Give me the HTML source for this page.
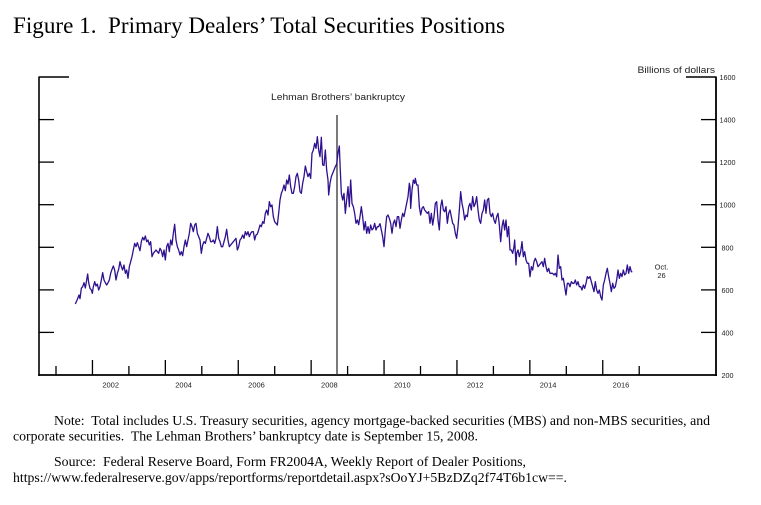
<!DOCTYPE html>
<html><head><meta charset="utf-8"><style>
html,body{margin:0;padding:0;background:#fff;}
svg{display:block;}
text{white-space:pre;}
.s{font-family:"Liberation Sans",Arial,sans-serif;fill:#222;}
.t{font-family:"Liberation Serif","Times New Roman",serif;fill:#000;}
</style></head><body>
<svg width="761" height="505" viewBox="0 0 761 505" xmlns="http://www.w3.org/2000/svg" xml:space="preserve">
<rect width="761" height="505" fill="#fff"/>
<text class="t" x="13" y="33" font-size="23" textLength="492" lengthAdjust="spacingAndGlyphs">Figure 1.  Primary Dealers’ Total Securities Positions</text>

<!-- axes -->
<g stroke="#000" fill="none">
<line x1="39" y1="76.5" x2="39" y2="376" stroke-width="1.6"/>
<line x1="716" y1="76.5" x2="716" y2="376" stroke-width="1.8"/>
<line x1="38.2" y1="375" x2="716.9" y2="375" stroke-width="1.8"/>
<line x1="39" y1="77" x2="69" y2="77" stroke-width="1.5"/>
<line x1="686" y1="77" x2="716" y2="77" stroke-width="1.5"/>
<g stroke-width="1.3">
<line x1="39" y1="119.6" x2="54" y2="119.6"/><line x1="39" y1="162.1" x2="54" y2="162.1"/>
<line x1="39" y1="204.7" x2="54" y2="204.7"/><line x1="39" y1="247.3" x2="54" y2="247.3"/>
<line x1="39" y1="289.9" x2="54" y2="289.9"/><line x1="39" y1="332.4" x2="54" y2="332.4"/>
<line x1="701" y1="119.6" x2="716" y2="119.6"/><line x1="701" y1="162.1" x2="716" y2="162.1"/>
<line x1="701" y1="204.7" x2="716" y2="204.7"/><line x1="701" y1="247.3" x2="716" y2="247.3"/>
<line x1="701" y1="289.9" x2="716" y2="289.9"/><line x1="701" y1="332.4" x2="716" y2="332.4"/>
</g>
<g stroke-width="1.3">
<line x1="56" y1="366" x2="56" y2="375"/>
<line x1="92.45" y1="360" x2="92.45" y2="375"/>
<line x1="128.9" y1="366" x2="128.9" y2="375"/>
<line x1="165.35" y1="360" x2="165.35" y2="375"/>
<line x1="201.8" y1="366" x2="201.8" y2="375"/>
<line x1="238.25" y1="360" x2="238.25" y2="375"/>
<line x1="274.7" y1="366" x2="274.7" y2="375"/>
<line x1="311.15" y1="360" x2="311.15" y2="375"/>
<line x1="347.6" y1="366" x2="347.6" y2="375"/>
<line x1="384.05" y1="360" x2="384.05" y2="375"/>
<line x1="420.5" y1="366" x2="420.5" y2="375"/>
<line x1="456.95" y1="360" x2="456.95" y2="375"/>
<line x1="493.4" y1="366" x2="493.4" y2="375"/>
<line x1="529.85" y1="360" x2="529.85" y2="375"/>
<line x1="566.3" y1="366" x2="566.3" y2="375"/>
<line x1="602.75" y1="360" x2="602.75" y2="375"/>
<line x1="639.2" y1="366" x2="639.2" y2="375"/>
</g>
</g>

<!-- Lehman line -->
<line x1="337" y1="115" x2="337" y2="375" stroke="#333" stroke-width="1.3"/>
<text class="s" x="338" y="100" font-size="9" text-anchor="middle" textLength="134" lengthAdjust="spacingAndGlyphs">Lehman Brothers’ bankruptcy</text>

<text class="s" x="637.5" y="73" font-size="9" textLength="77.5" lengthAdjust="spacingAndGlyphs">Billions of dollars</text>

<g class="s" font-size="7.2">
<text x="719.5" y="80">1600</text>
<text x="719.5" y="122.6">1400</text>
<text x="719.5" y="165.1">1200</text>
<text x="719.5" y="207.7">1000</text>
<text x="721.5" y="250.3">800</text>
<text x="721.5" y="292.9">600</text>
<text x="721.5" y="335.4">400</text>
<text x="721.5" y="378">200</text>
</g>
<g class="s" font-size="7.5" text-anchor="middle">
<text x="110.7" y="387.5">2002</text>
<text x="183.6" y="387.5">2004</text>
<text x="256.5" y="387.5">2006</text>
<text x="329.4" y="387.5">2008</text>
<text x="402.3" y="387.5">2010</text>
<text x="475.2" y="387.5">2012</text>
<text x="548.1" y="387.5">2014</text>
<text x="621" y="387.5">2016</text>
<text x="661.5" y="269.5">Oct.</text>
<text x="661.5" y="278">26</text>
</g>

<!-- series -->
<g fill="none" stroke="#2f1190" stroke-width="1.3" stroke-linejoin="round">
<polyline vector-effect="non-scaling-stroke" transform="translate(0,60) scale(0.333333)" points="226,732 232,718 237,705 240,716 244,685 248,680 252,668 256,684 260,660 263,642 266,668 270,685 274,690 277,700 280,680 284,665 288,678 292,672 296,690 300,680 304,660 308,638 312,660 316,668 320,675 324,668 328,660 332,640 336,628 340,618 344,630 348,660 352,640 356,628 360,605 364,620 368,630 372,615 376,640 380,630 384,655 388,620 392,605 396,590 400,570 404,550 408,560 412,548 416,560 420,572 424,545 428,532 432,540 436,528 440,545 444,540 448,555 452,545 456,590 460,580 464,575 468,570 472,575 476,580 480,565 484,572 488,590 492,570 496,600 500,560 504,550 508,575 512,540 516,555 520,520 524,493 528,540 532,560 536,570 540,585 544,575 548,587 552,560 556,540 560,560 564,540 568,520 572,490 576,500 580,515 584,495 588,490 592,520 596,530 600,540 604,580 608,555 612,545 616,550 620,535 624,520 628,530 632,545 636,545 640,540 644,550 648,535 652,500 656,535 660,545 664,560 668,560 672,545 676,530 680,508 684,540 688,560 692,555 696,550 700,545 704,540 708,535 712,570 716,560 720,540 724,535 728,525 732,535 736,515 740,525 744,515 748,530 752,520 756,515 760,515 764,540 768,525 772,522 776,510 780,495 784,500 788,485 792,490 796,460 800,450 804,465 808,425 812,440 816,435 820,470 824,485 828,490 832,495 836,460 840,420 844,400 848,390 852,375 856,392 860,360 864,372 868,345 872,380 876,400 880,400 884,380 888,350 892,340 896,360 900,395 904,400 908,370 912,350 916,318 920,335 924,350 928,340 932,355 936,280 940,270 944,250 948,265 952,230 956,270 960,290 964,232 968,315 972,316 976,270 980,330 984,360 986,405 990,370 994,350 998,340 1002,330 1006,320 1010,312 1014,280 1018,258 1020,310 1024,400 1028,420 1032,400 1036,460 1040,420 1044,380 1048,440 1052,360 1056,430 1060,440 1064,460 1068,490 1072,480 1076,494 1080,470 1084,440 1088,470 1092,510 1096,485 1100,520 1104,500 1108,520 1112,495 1116,510 1120,505 1124,490 1128,510 1132,500 1136,500 1140,490"/>
<polyline vector-effect="non-scaling-stroke" transform="translate(380,60) scale(0.333333)" points="0,490 4,510 8,530 12,560 16,510 20,470 24,465 28,475 32,490 36,520 40,490 44,480 48,500 52,470 56,470 60,505 64,480 68,460 72,470 76,450 80,430 84,410 88,370 90,380 92,445 96,390 100,360 104,370 106,355 110,375 114,375 118,440 122,465 126,445 130,440 134,450 138,455 142,460 146,455 150,490 154,460 158,495 162,470 166,430 170,425 174,480 178,510 182,440 186,420 190,450 194,455 198,440 202,490 206,460 210,450 214,470 218,490 222,495 226,520 230,535 234,500 238,450 242,395 246,430 250,450 254,480 258,465 262,470 266,440 270,430 274,450 278,410 282,440 286,430 290,410 294,450 298,480 302,490 306,460 310,450 314,420 318,460 322,420 326,415 330,460 334,470 338,460 342,480 346,490 350,470 354,460 358,495 362,545 366,500 370,480 374,510 378,480 382,530 386,500 390,570 394,570 398,580 402,560 404,540 408,615 410,580 414,570 418,590 422,575 426,545 430,590 434,575 438,600 442,610 446,610 450,650 454,620 458,630 462,605 466,595 470,605 474,620 478,615 482,610 486,605 490,620 494,595 498,620 502,635 506,625 510,640 514,640 518,640 522,645 526,640 530,650 534,585 538,625 542,620 546,660 550,655 554,680 558,705 562,670 566,670 570,680 574,665 578,670 582,670 586,660 590,675 594,665 598,680 602,680 606,690 610,675 614,685 618,670 622,650 626,655 630,650 634,665 638,680 642,695 646,665 650,690 654,700 658,690 662,710 666,720 670,675 674,660 678,640 682,625 686,650 690,670 694,695 698,670 702,685 706,680 710,660 714,630 718,655 722,640 726,650 730,630 734,645 738,640 742,615 746,640 750,620 754,635 757,635"/>
</g>

<!-- notes -->
<g class="t" font-size="13.5">
<text x="54" y="425" textLength="656" lengthAdjust="spacingAndGlyphs">Note:  Total includes U.S. Treasury securities, agency mortgage-backed securities (MBS) and non-MBS securities, and</text>
<text x="13" y="440.5" textLength="465" lengthAdjust="spacingAndGlyphs">corporate securities.  The Lehman Brothers’ bankruptcy date is September 15, 2008.</text>
<text x="54" y="466" textLength="472" lengthAdjust="spacingAndGlyphs">Source:  Federal Reserve Board, Form FR2004A, Weekly Report of Dealer Positions,</text>
<text x="13" y="482" textLength="554" lengthAdjust="spacingAndGlyphs">https://www.federalreserve.gov/apps/reportforms/reportdetail.aspx?sOoYJ+5BzDZq2f74T6b1cw==.</text>
</g>
</svg>
</body></html>
